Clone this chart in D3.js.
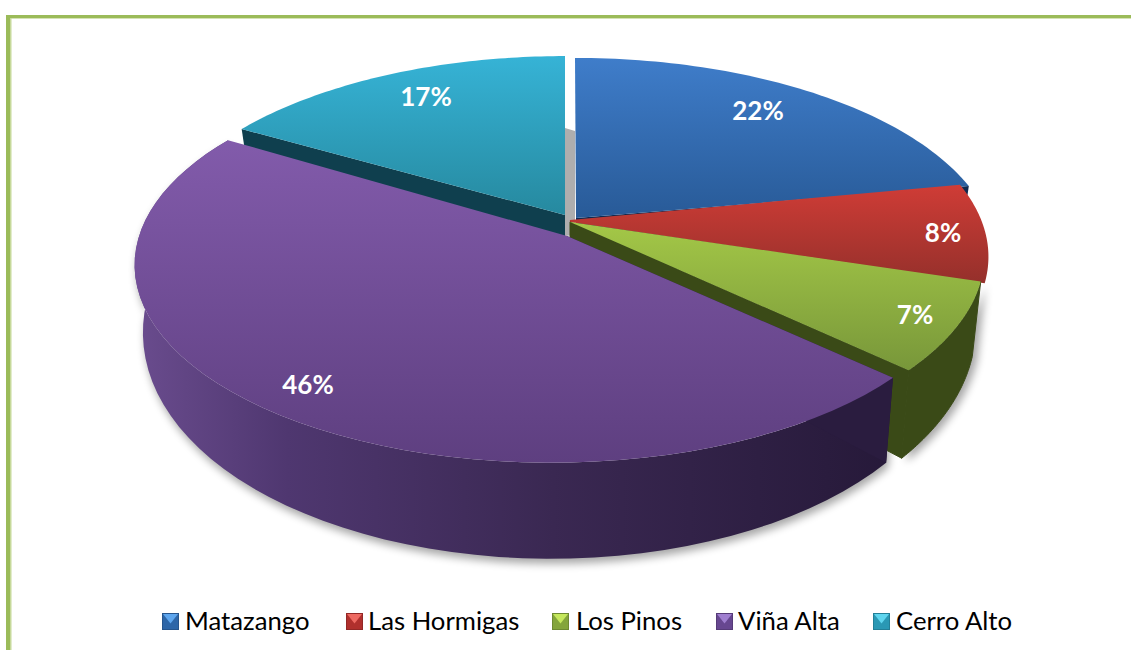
<!DOCTYPE html>
<html><head><meta charset="utf-8">
<style>html,body{margin:0;padding:0;background:#fff;overflow:hidden}svg{display:block}text{font-family:Lato,"Open Sans",sans-serif}</style>
<script src="https://cdn.jsdelivr.net/npm/d3@7"></script></head>
<body><svg id="c" width="1131" height="650"></svg>
<script>
const categories = ["Matazango","Las Hormigas","Los Pinos","Viña Alta","Cerro Alto"];
const values = [22,8,7,46.4,16.6];
const topColors = [["#3f7dca","#285a97"],["#cf3c36","#95302b"],["#a4c847","#78973a"],["#825bab","#5e3f80"],["#36b3d6","#26899f"]];
const wallColors = ["#10294f","#5a1a18","#3a4a17","#3f2b58","#0f3f4e"];
const legendColors = ["#2d66a8","#b0302d","#84a53b","#674790","#2a98b4"];
const legendLight = ["#5ea6ee","#ee6a62","#c5e85c","#a07fd0","#5fd5ee"];
// perspective of the disc and each slice's displacement
const persp = {apexY:222, a:154.4, c:-0.187, k:420};
const rimShift = [{x:575,y:-1,s:.988},{x:574,y:-2,s:.967},{x:561,y:-4,s:.99},{x:551,y:6,s:.974},{x:565,y:-5,s:.975}];
const apexes = [[576,218],[570,221],[570,222],[567,236],[565,215]];
const labelPos = [[758,120],[943,242],[915,324],[308,394],[426,106]];
const legendX = [162,346,552,716,873];
const legendTextX = [185,368,576,738,896];

const svg = d3.select("#c"), defs = svg.append("defs");
const pie = d3.pie().sort(null).value(d=>d);
const arcs = pie(values);
const line = d3.line();

function depth(v){return 61+35*v;}
function rim(i, ang, bottom){
  const u=Math.sin(ang), v=-Math.cos(ang), w=1+persp.c*v, r=rimShift[i];
  let X=persp.k*u/w*r.s, Y=(persp.apexY+persp.a*v)/w;
  Y=persp.apexY+(Y-persp.apexY)*r.s+r.y;
  if(bottom){ X*=0.98; Y+=depth(v)+(i===2?3:0);}
  return [r.x+X,Y];
}
function arcPts(i,a0,a1,bottom){
  return d3.range(0,61).map(t=>rim(i,a0+(a1-a0)*t/60,bottom));
}

// gradients
topColors.forEach((c,i)=>{
  const pts=arcPts(i,arcs[i].startAngle,arcs[i].endAngle,false).concat([apexes[i]]);
  const ys=d3.extent(pts,p=>p[1]);
  const g=defs.append("linearGradient").attr("id","t"+i).attr("gradientUnits","userSpaceOnUse")
    .attr("x1",0).attr("x2",0).attr("y1",ys[0]).attr("y2",ys[1]);
  g.append("stop").attr("offset",0).attr("stop-color",c[0]);
  g.append("stop").attr("offset",1).attr("stop-color",c[1]);
});
const pg=defs.append("linearGradient").attr("id","pw").attr("gradientUnits","userSpaceOnUse").attr("x1",135).attr("x2",895).attr("y1",0).attr("y2",0);
[[0,"#6a4c8e"],[.2,"#4f3770"],[.55,"#3a2852"],[1,"#261939"]].forEach(s=>pg.append("stop").attr("offset",s[0]).attr("stop-color",s[1]));
defs.append("filter").attr("id","blur").attr("x","-10%").attr("y","-10%").attr("width","120%").attr("height","120%")
  .append("feGaussianBlur").attr("stdDeviation",4);

// frame
svg.append("rect").attr("x",6).attr("y",15).attr("width",1125).attr("height",3).attr("fill","#9bbb59");
svg.append("rect").attr("x",6).attr("y",15).attr("width",4).attr("height",635).attr("fill","#9bbb59");
svg.append("rect").attr("x",10).attr("y",18).attr("width",1121).attr("height",1).attr("fill","#d5e3b5");
svg.append("rect").attr("x",10).attr("y",18).attr("width",1.5).attr("height",632).attr("fill","#c6d99a");

const pie3d=svg.append("g");
function strip(i,a0,a1){
  return line(arcPts(i,a0,a1,false).concat(arcPts(i,a0,a1,true).reverse()))+"Z";
}
function sideWall(i,ang){
  const t=rim(i,ang,false), b=rim(i,ang,true), ap=apexes[i];
  return line([ap,t,b,[ap[0],ap[1]+depth(0)]])+"Z";
}
function topFace(i){
  return line([apexes[i]].concat(arcPts(i,arcs[i].startAngle,arcs[i].endAngle,false)))+"Z";
}
// soft shadow under the front walls
pie3d.append("path").attr("d",strip(3,arcs[3].startAngle,arcs[3].endAngle)).attr("fill","#000").attr("opacity",.35)
  .attr("transform","translate(2,5)").attr("filter","url(#blur)");
pie3d.append("path").attr("d",strip(2,arcs[2].startAngle,arcs[2].endAngle)).attr("fill","#000").attr("opacity",.35)
  .attr("transform","translate(5,3)").attr("filter","url(#blur)");
// grey gap between the back slices
pie3d.append("path").attr("d",line([[565,128],[575,131],[575,235],[565,236]])+"Z").attr("fill","#aeaeae");

[4,0,1,2,3].forEach(i=>{
  const d=arcs[i];
  if(i===4) pie3d.append("path").attr("d",sideWall(4,d.startAngle)).attr("fill",wallColors[4]);
  if(i===0) pie3d.append("path").attr("d",sideWall(0,d.endAngle)).attr("fill",wallColors[0]);
  if(i===2){
    pie3d.append("path").attr("d",sideWall(2,d.endAngle)).attr("fill",wallColors[2]).attr("stroke",wallColors[2]).attr("stroke-width",1);
    pie3d.append("path").attr("d",strip(2,d.startAngle,d.endAngle)).attr("fill",wallColors[2]).attr("stroke",wallColors[2]).attr("stroke-width",1);
  }
  if(i===3){
    pie3d.append("path").attr("d",strip(3,d.startAngle,d.endAngle)).attr("fill","url(#pw)");
    pie3d.append("path").attr("d",sideWall(3,d.startAngle)).attr("fill","#2a1c3f");
  }
  const face=pie3d.append("path").attr("d",topFace(i)).attr("fill",`url(#t${i})`);
  if(i===1) face.attr("stroke",`url(#t${i})`).attr("stroke-width",2);
});

// labels
svg.append("g").selectAll("text").data(values).join("text")
  .attr("x",(d,i)=>labelPos[i][0]).attr("y",(d,i)=>labelPos[i][1])
  .attr("text-anchor","middle").attr("fill","#fff").attr("font-weight",700).attr("font-size",26)
  .text(d=>Math.round(d)+"%");

// legend
const lg=svg.append("g").selectAll("g").data(categories).join("g");
lg.each(function(name,i){
  const g=d3.select(this), x=legendX[i], y=613, s=17;
  g.append("rect").attr("x",x).attr("y",y).attr("width",s).attr("height",s).attr("fill",legendColors[i]);
  g.append("path").attr("d",line([[x+1,y+1],[x+s-1,y+1],[x+s/2,y+s/2+2]])+"Z").attr("fill",legendLight[i]);
  g.append("rect").attr("x",x+.5).attr("y",y+.5).attr("width",s-1).attr("height",s-1).attr("fill","none")
    .attr("stroke",d3.color(legendColors[i]).darker(.5));
  g.append("text").attr("x",legendTextX[i]).attr("y",630).attr("font-size",25.7).attr("fill","#000").text(name);
});
</script></body></html>
